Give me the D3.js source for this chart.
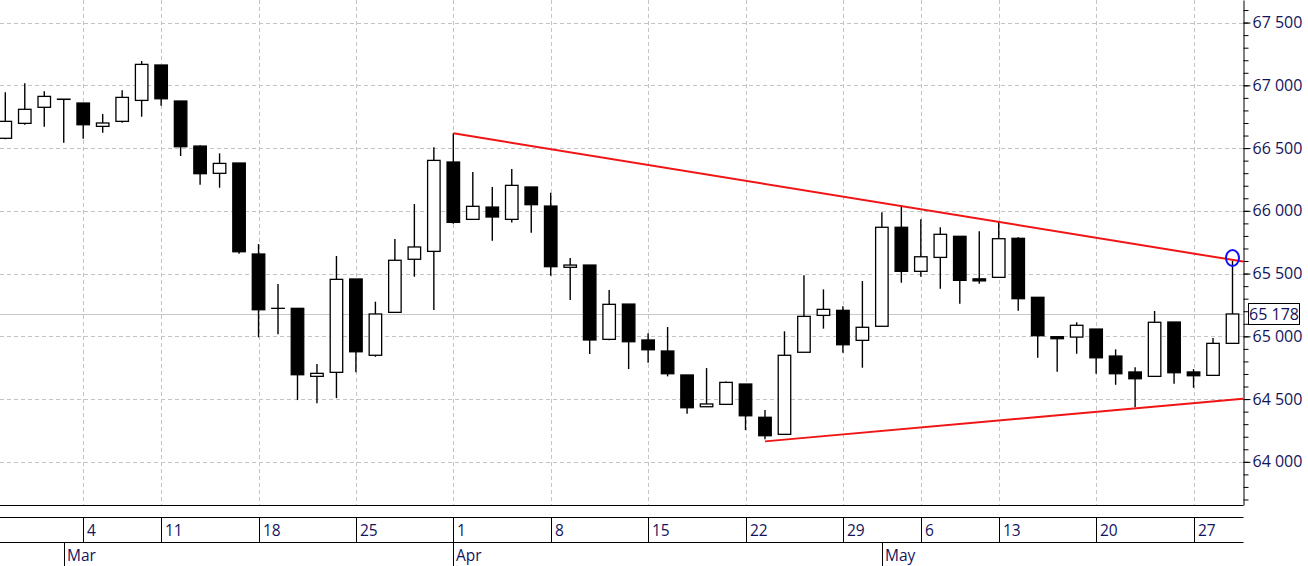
<!DOCTYPE html>
<html>
<head>
<meta charset="utf-8">
<script src="https://cdn.jsdelivr.net/npm/d3@7/dist/d3.min.js"></script>
<style>
  html, body { margin: 0; padding: 0; background: #fff; }
  svg { display: block; }
  text { font-family: "Open Sans", "Noto Sans", sans-serif; }
</style>
</head>
<body>
<svg id="chart" width="1308" height="566"></svg>
<script>
// ---------- data ----------
const dates = ["2024-02-27","2024-02-28","2024-02-29","2024-03-01",
  "2024-03-04","2024-03-05","2024-03-06","2024-03-07",
  "2024-03-11","2024-03-12","2024-03-13","2024-03-14","2024-03-15",
  "2024-03-18","2024-03-19","2024-03-20","2024-03-21","2024-03-22",
  "2024-03-25","2024-03-26","2024-03-27","2024-03-28","2024-03-29",
  "2024-04-01","2024-04-02","2024-04-03","2024-04-04","2024-04-05",
  "2024-04-08","2024-04-09","2024-04-10","2024-04-11","2024-04-12",
  "2024-04-15","2024-04-16","2024-04-17","2024-04-18","2024-04-19",
  "2024-04-22","2024-04-23","2024-04-24","2024-04-25","2024-04-26",
  "2024-04-29","2024-04-30","2024-05-02","2024-05-03",
  "2024-05-06","2024-05-07","2024-05-08","2024-05-10",
  "2024-05-13","2024-05-14","2024-05-15","2024-05-16","2024-05-17",
  "2024-05-20","2024-05-21","2024-05-22","2024-05-23","2024-05-24",
  "2024-05-27","2024-05-28","2024-05-29"];

const opens  = [66578,66697,66825,66890,66859,66673,66713,66880,67162,66875,66516,66299,66381,65656,65223,65223,64681,64713,65457,64849,65191,65614,65677,66389,65932,66030,65932,66190,66038,65550,65568,64976,65257,64971,64883,64692,64439,64458,64620,64355,64219,64873,65167,65207,64968,65080,65869,65518,65629,65797,65458,65470,65781,65311,64997,64994,65058,64843,64716,64681,65114,64716,64689,64944];
const highs  = [66944,67016,66952,66890,66859,66771,66960,67194,67162,66875,66522,66458,66381,65735,65417,65223,64779,65640,65457,65276,65775,66054,66506,66618,66309,66190,66333,66190,66144,65624,65568,65369,65257,65024,65074,64692,64747,64641,64620,64413,65040,65486,65374,65239,65441,65988,66046,65932,65869,65797,65837,65911,65789,65311,64997,65112,65058,64896,64753,65202,65114,64739,64986,65602];
const lows   = [66570,66686,66670,66543,66574,66622,66702,66750,66837,66437,66208,66184,65658,64992,65016,64492,64466,64508,64713,64837,65191,65475,65210,65897,65932,65762,65908,65825,65483,65289,64859,64968,64739,64790,64681,64383,64439,64458,64253,64179,64219,64873,65061,64869,64750,65080,65427,65475,65379,65260,65419,65470,65204,64829,64718,64861,64702,64614,64434,64681,64622,64590,64689,64944];
const closes = [66713,66809,66912,66888,66686,66700,66904,67167,66893,66511,66296,66378,65674,65212,65223,64694,64705,65454,64877,65178,65606,65712,66402,65908,66036,65951,66203,66049,65555,65568,64971,65255,64957,64893,64702,64431,64461,64633,64367,64208,64849,65159,65215,64933,65072,65869,65518,65634,65813,65446,65442,65778,65300,65005,64981,65088,64829,64702,64662,65112,64710,64686,64944,65178];

// week tick labels (first trading day of each week)
const weekTickDates  = ["2024-03-04","2024-03-11","2024-03-18","2024-03-25","2024-04-01","2024-04-08","2024-04-15","2024-04-22","2024-04-29","2024-05-06","2024-05-13","2024-05-20","2024-05-27"];
const weekTickLabels = ["4","11","18","25","1","8","15","22","29","6","13","20","27"];
// month tick labels (first trading day of each month)
const monthTickDates  = ["2024-03-01","2024-04-01","2024-05-02"];
const monthTickLabels = ["Mar","Apr","May"];
// price axis ticks
const priceTicks = [64000,64500,65000,65500,66000,66500,67000,67500];
const priceMinorTicks = d3.range(63700, 67601, 100);

// trend lines (date, value)
const upperTrendDates  = ["2024-04-01","2024-05-29"];
const upperTrendValues = [66618, 65609];
const lowerTrendDates  = ["2024-04-23","2024-05-29"];
const lowerTrendValues = [64163, 64496];
// highlighted point
const markerDate = "2024-05-29";
const markerValue = 65624;

// ---------- layout ----------
const W = 1308, H = 566;
const plotRight = 1243, plotBottom = 505;
const svg = d3.select("#chart");

const x = d3.scalePoint().domain(dates).range([5.3, 1232.5]);
const y = d3.scaleLinear().domain([63656, 67680]).range([plotBottom, 0]);

const loc = d3.formatLocale({decimal: ".", thousands: " ", grouping: [3], currency: ["", ""]});
const fmt = loc.format(",d");
const textColor = "#14145c";

// grid
const grid = svg.append("g");
grid.selectAll("line.h").data(priceTicks).join("line")
  .attr("x1", 0).attr("x2", plotRight)
  .attr("y1", d => Math.round(y(d)) + 0.5).attr("y2", d => Math.round(y(d)) + 0.5)
  .attr("stroke", "#c4c4c4").attr("stroke-width", 1).attr("stroke-dasharray", "4,3");
grid.selectAll("line.v").data(weekTickDates).join("line")
  .attr("x1", d => Math.round(x(d)) + 0.5).attr("x2", d => Math.round(x(d)) + 0.5)
  .attr("y1", 0).attr("y2", plotBottom)
  .attr("stroke", "#c4c4c4").attr("stroke-width", 1).attr("stroke-dasharray", "4,3");

// last price line
const lastClose = closes[closes.length - 1];
svg.append("line")
  .attr("x1", 0).attr("x2", plotRight)
  .attr("y1", Math.round(y(lastClose)) + 0.5).attr("y2", Math.round(y(lastClose)) + 0.5)
  .attr("stroke", "#c8c8c8").attr("stroke-width", 1.2);

// candles
const candles = dates.map((d, i) => ({d, o: opens[i], h: highs[i], l: lows[i], c: closes[i]}));
const bodyW = 12.5;
const cg = svg.append("g");
cg.selectAll("line.wick").data(candles).join("line")
  .attr("x1", d => x(d.d)).attr("x2", d => x(d.d))
  .attr("y1", d => y(d.h)).attr("y2", d => y(d.l))
  .attr("stroke", "#000").attr("stroke-width", 1.4);
cg.selectAll("rect.body").data(candles).join("rect")
  .attr("x", d => x(d.d) - bodyW / 2)
  .attr("width", bodyW)
  .attr("y", d => y(Math.max(d.o, d.c)))
  .attr("height", d => Math.max(0.01, Math.abs(y(d.o) - y(d.c))))
  .attr("fill", d => d.c >= d.o ? "#fff" : "#000")
  .attr("stroke", "#000").attr("stroke-width", 1.3);

// trend lines, extended to the plot's right edge
function extendToEdge(ds, vs) {
  const x0 = x(ds[0]), x1 = x(ds[1]);
  const slope = (vs[1] - vs[0]) / (x1 - x0);
  return [[x0, y(vs[0])], [plotRight, y(vs[0] + slope * (plotRight - x0))]];
}
[[upperTrendDates, upperTrendValues], [lowerTrendDates, lowerTrendValues]].forEach(([ds, vs]) => {
  const p = extendToEdge(ds, vs);
  svg.append("line")
    .attr("x1", p[0][0]).attr("y1", p[0][1]).attr("x2", p[1][0]).attr("y2", p[1][1])
    .attr("stroke", "#f01414").attr("stroke-width", 2);
});

// highlight marker
svg.append("ellipse")
  .attr("cx", x(markerDate)).attr("cy", y(markerValue))
  .attr("rx", 6.5).attr("ry", 8)
  .attr("fill", "none").attr("stroke", "#1010ff").attr("stroke-width", 2);

// plot frame lines
svg.append("line").attr("x1", 0).attr("x2", plotRight + 0.5).attr("y1", plotBottom + 0.5).attr("y2", plotBottom + 0.5)
  .attr("stroke", "#000").attr("stroke-width", 1);

// right axis
const axisG = svg.append("g").attr("transform", `translate(${plotRight + 0.5},0)`);
axisG.call(d3.axisRight(y).tickValues(priceMinorTicks).tickSize(5).tickSizeOuter(0).tickFormat(""));
axisG.call(g => g.selectAll(".tick line").attr("stroke", "#000"));
const majorG = svg.append("g").attr("transform", `translate(${plotRight + 0.5},0)`);
majorG.call(d3.axisRight(y).tickValues(priceTicks).tickSize(7).tickSizeOuter(0).tickPadding(2).tickFormat(fmt));
majorG.select(".domain").remove();
majorG.selectAll(".tick text")
  .attr("font-family", "'Open Sans', 'Noto Sans', sans-serif")
  .attr("font-size", 16).attr("fill", textColor);
axisG.select(".domain").attr("stroke", "#000");

// last price label
const lp = svg.append("g").attr("transform", `translate(1248.5, ${y(lastClose)})`);
lp.append("rect").attr("x", 0).attr("y", -10.5).attr("width", 51).attr("height", 21)
  .attr("fill", "#fff").attr("stroke", "#000").attr("stroke-width", 1);
lp.append("text").attr("x", 25.5).attr("y", 0).attr("dy", "0.35em").attr("text-anchor", "middle")
  .attr("font-size", 16).attr("fill", textColor).text(fmt(lastClose));

// bottom date axis
const rowTop = 517.5, rowMid = 542.5;
svg.append("line").attr("x1", 0).attr("x2", plotRight + 0.5).attr("y1", rowTop).attr("y2", rowTop).attr("stroke", "#000");
svg.append("line").attr("x1", 0).attr("x2", plotRight + 0.5).attr("y1", rowMid).attr("y2", rowMid).attr("stroke", "#000");

const wk = svg.append("g");
wk.selectAll("line").data(weekTickDates).join("line")
  .attr("x1", d => Math.round(x(d)) + 0.5).attr("x2", d => Math.round(x(d)) + 0.5)
  .attr("y1", rowTop).attr("y2", rowMid).attr("stroke", "#000");
wk.selectAll("text").data(weekTickDates).join("text")
  .attr("x", d => Math.round(x(d)) + 4).attr("y", 536)
  .attr("font-size", 15.5).attr("fill", textColor)
  .text((d, i) => weekTickLabels[i]);

const mo = svg.append("g");
mo.selectAll("line").data(monthTickDates).join("line")
  .attr("x1", d => Math.round(x(d)) + 0.5).attr("x2", d => Math.round(x(d)) + 0.5)
  .attr("y1", rowMid).attr("y2", H).attr("stroke", "#000");
mo.selectAll("text").data(monthTickDates).join("text")
  .attr("x", d => Math.round(x(d)) + 3).attr("y", 561)
  .attr("font-size", 15.5).attr("fill", textColor)
  .text((d, i) => monthTickLabels[i]);
</script>
</body>
</html>
